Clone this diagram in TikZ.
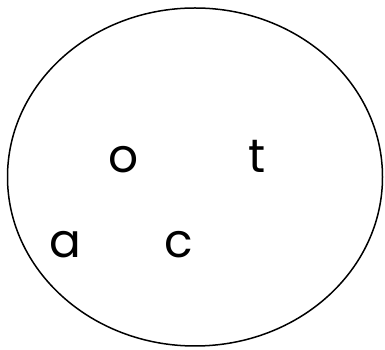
\documentclass[tikz,border=0pt]{standalone}
\usepackage{fontspec}
\setmainfont{Poppins}
\usetikzlibrary{shapes.geometric}

\begin{document}
\begin{tikzpicture}[x=1pt,y=1pt,
  set/.style={draw,ellipse,line width=1.5pt,minimum width=375pt,minimum height=338pt,inner sep=0pt},
  letter/.style={font=\fontsize{47}{47}\selectfont,inner sep=0pt,anchor=base}]
  \useasboundingbox (0,0) rectangle (385,350);
  \node[set] (univ) at (195,173) {};
  \node[letter] (o) at (124,177) {o};
  \node[letter] (t) at (257,177) {t};
  \node[letter] (a) at (65,92) {a};
  \node[letter] (c) at (179,92) {c};
\end{tikzpicture}
\end{document}
